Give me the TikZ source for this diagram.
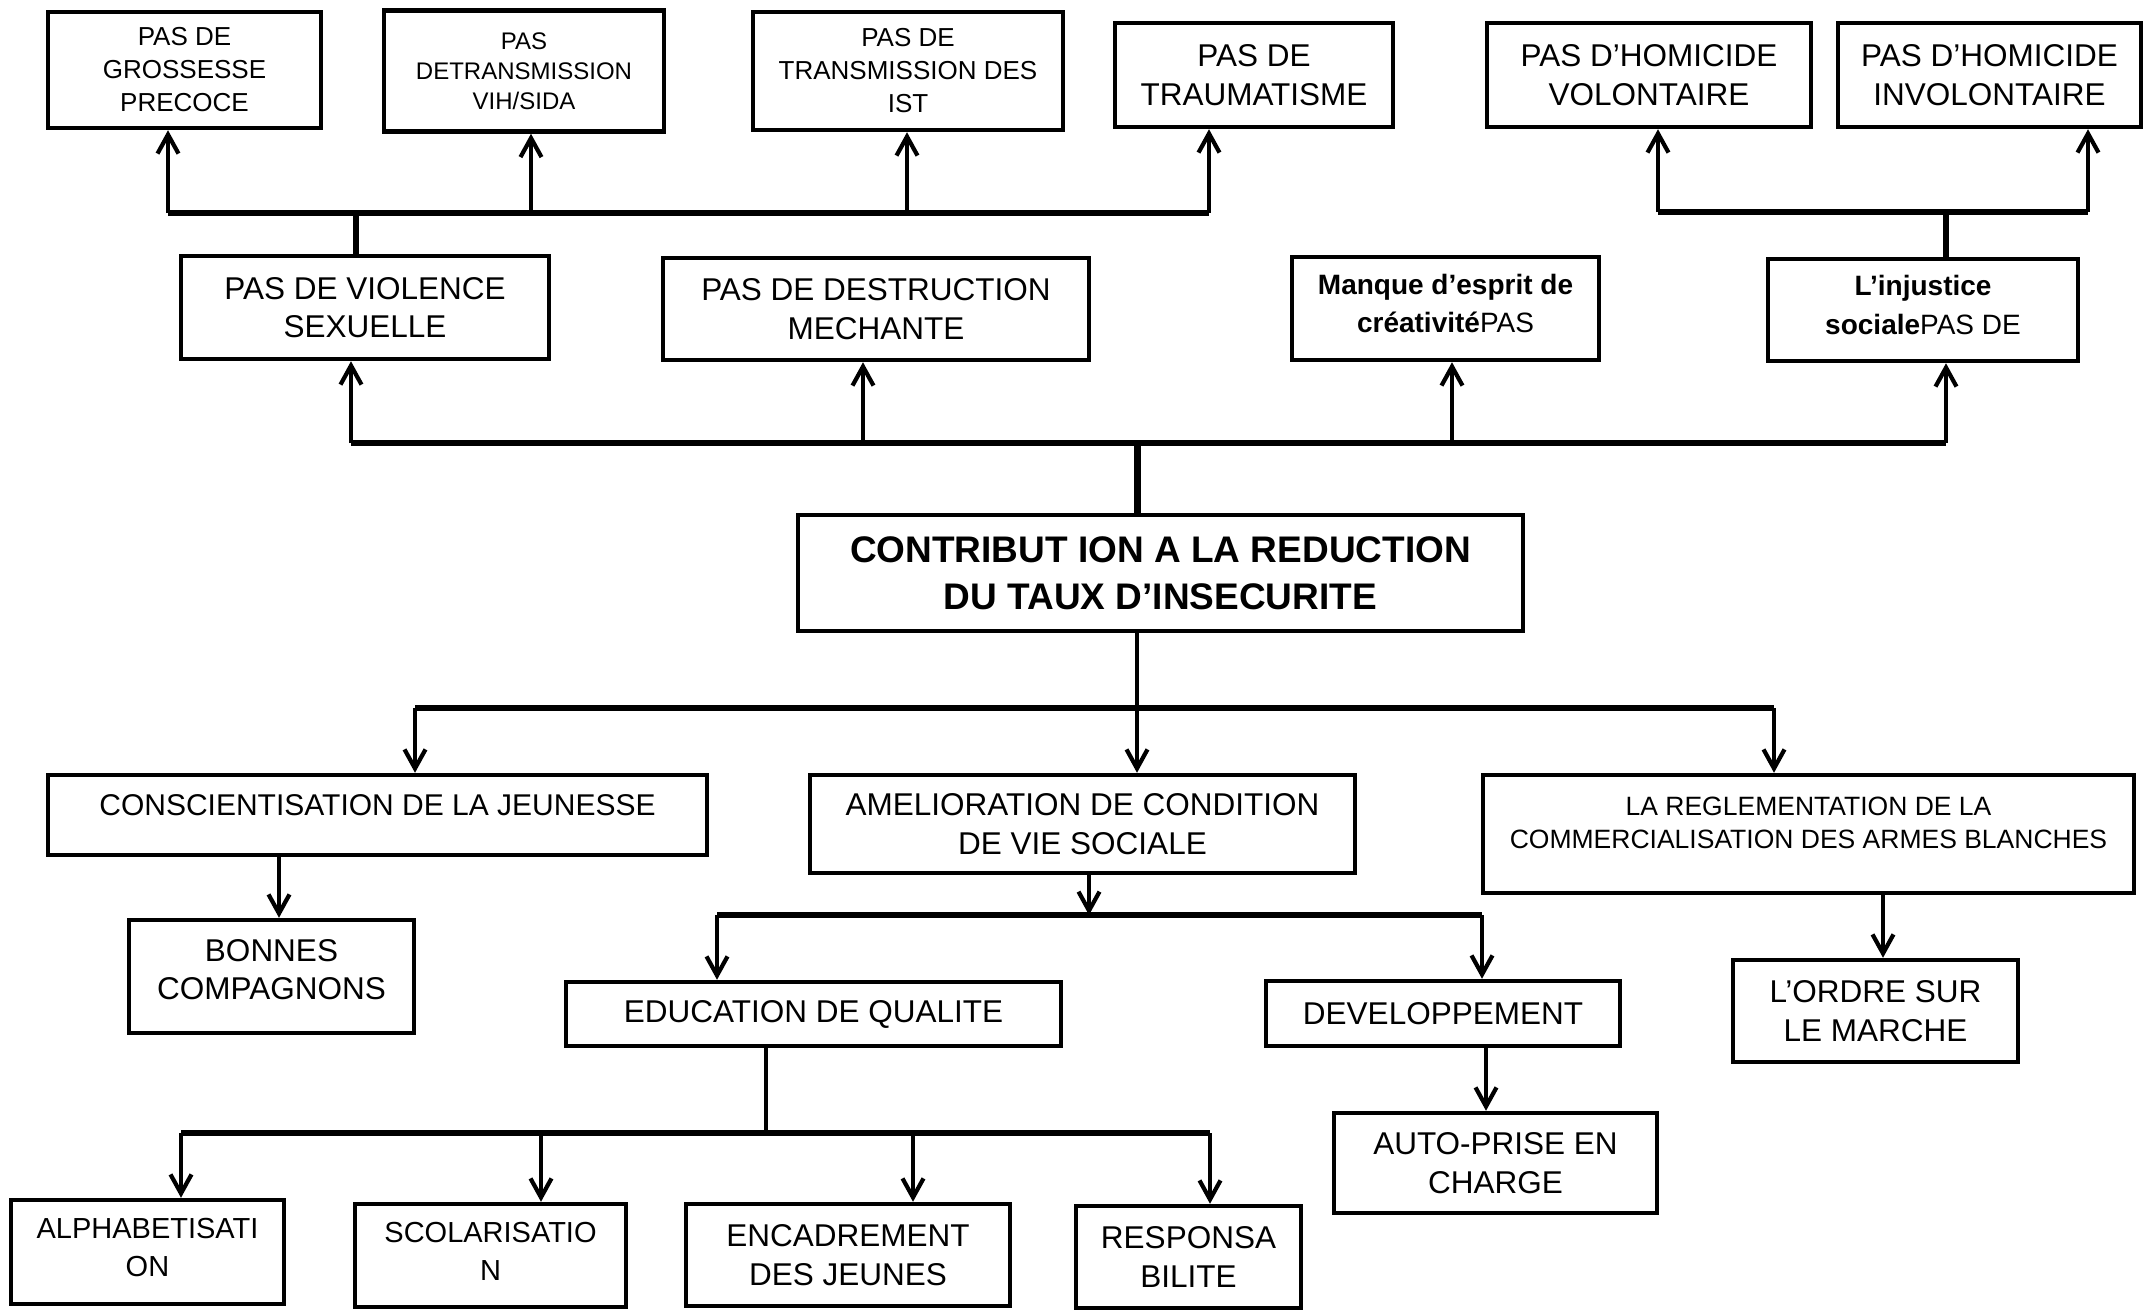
\documentclass[tikz,border=0pt]{standalone}
\usepackage{fontspec}
\setmainfont{Liberation Sans}
\usetikzlibrary{arrows.meta}
\newcommand{\monte}[2]{\raisebox{#1}[\height][\depth]{#2}}

\begin{document}
\begin{tikzpicture}[x=1pt,y=-1pt,
    boite/.style={draw,line width=4.5pt,inner sep=0pt,align=center,font=\fontsize{31.5}{38.5}\selectfont},
    petit/.style={font=\fontsize{26}{33}\selectfont},
    fleche/.style={-{Straight Barb[length=19pt,width=21pt]},line width=4.2pt},
    barre/.style={line width=5.5pt}]
        \useasboundingbox (0,0) rectangle (2145,1311);

        \node[boite,petit,minimum width=273,minimum height=116] at (184.5,70) (gross) {PAS DE\\GROSSESSE\\PRECOCE};
        \node[boite,font=\fontsize{24}{30}\selectfont,minimum width=280,minimum height=121] at (524,71) (vih) {PAS\\DETRANSMISSION\\VIH/SIDA};
        \node[boite,petit,minimum width=310,minimum height=118] at (908,71) (ist) {PAS DE\\TRANSMISSION DES\\IST};
        \node[boite,minimum width=278,minimum height=104] at (1254,75) (traum) {PAS DE\\TRAUMATISME};
        \node[boite,minimum width=324,minimum height=104] at (1649,75) (volont) {PAS D’HOMICIDE\\VOLONTAIRE};
        \node[boite,minimum width=303,minimum height=104] at (1989.5,75) (involont) {PAS D’HOMICIDE\\INVOLONTAIRE};

        \node[boite,minimum width=368,minimum height=103] at (365,307.5) (viol) {PAS DE VIOLENCE\\SEXUELLE};
        \node[boite,minimum width=426,minimum height=102] at (876,309) (destr) {PAS DE DESTRUCTION\\MECHANTE};
        \node[boite,font=\fontsize{28}{38.5}\selectfont,minimum width=307,minimum height=103] at (1445.5,308.5) (manque) {\monte{5pt}{\textbf{Manque d’esprit de}}\\\monte{5pt}{\textbf{créativité}PAS}};
        \node[boite,font=\fontsize{28}{38.5}\selectfont,minimum width=310,minimum height=102] at (1923,310) (injust) {\monte{5pt}{\textbf{L’injustice}}\\\monte{5pt}{\textbf{sociale}PAS DE}};

        \node[boite,font=\bfseries\fontsize{37}{47}\selectfont,minimum width=725,minimum height=116] at (1160.5,573) (central) {CONTRIBUT ION A LA REDUCTION\\DU TAUX D’INSECURITE};

        \node[boite,font=\fontsize{30}{38}\selectfont,minimum width=659,minimum height=80] at (377.5,815) (consc) {\monte{10pt}{CONSCIENTISATION DE LA JEUNESSE}};
        \node[boite,minimum width=545,minimum height=98] at (1082.5,824) (amelio) {AMELIORATION DE CONDITION\\DE VIE SOCIALE};
        \node[boite,font=\fontsize{26.5}{33}\selectfont,minimum width=651,minimum height=118] at (1808.5,834) (regle) {\monte{11pt}{LA REGLEMENTATION DE LA}\\\monte{11pt}{COMMERCIALISATION DES ARMES BLANCHES}};

        \node[boite,minimum width=285,minimum height=113] at (271.5,976.5) (bonnes) {\monte{7pt}{BONNES}\\\monte{7pt}{COMPAGNONS}};
        \node[boite,minimum width=495,minimum height=64] at (813.5,1014) (educ) {EDUCATION DE QUALITE};
        \node[boite,minimum width=354,minimum height=65] at (1443,1013.5) (devel) {DEVELOPPEMENT};
        \node[boite,minimum width=323,minimum height=100] at (1495.5,1163) (autopr) {AUTO-PRISE EN\\CHARGE};
        \node[boite,minimum width=285,minimum height=102] at (1875.5,1011) (ordre) {L’ORDRE SUR\\LE MARCHE};

        \node[boite,font=\fontsize{29}{38}\selectfont,minimum width=273,minimum height=104] at (147.5,1252) (alpha) {\monte{4pt}{ALPHABETISATI}\\\monte{4pt}{ON}};
        \node[boite,font=\fontsize{29}{38}\selectfont,minimum width=271,minimum height=103] at (490.5,1255.5) (scol) {\monte{4pt}{SCOLARISATIO}\\\monte{4pt}{N}};
        \node[boite,minimum width=324,minimum height=102] at (848,1255) (encad) {ENCADREMENT\\DES JEUNES};
        \node[boite,minimum width=225,minimum height=102] at (1188.5,1257) (respons) {RESPONSA\\BILITE};

        \coordinate (hg) at (168,213);
        \coordinate (hv) at (531,213);
        \coordinate (hi) at (907,213);
        \coordinate (ht) at (1209,213);
        \coordinate (sv) at (356,213);
        \draw[barre] (hg) -- (ht);
        \draw[fleche] (hg) -- (hg |- gross.south);
        \draw[fleche] (hv) -- (hv |- vih.south);
        \draw[fleche] (hi) -- (hi |- ist.south);
        \draw[fleche] (ht) -- (ht |- traum.south);
        \draw[barre,line width=6pt] (sv) -- (sv |- viol.north);

        \coordinate (ho) at (1658,212);
        \coordinate (hn) at (2088,212);
        \coordinate (hj) at (1946,212);
        \draw[barre] (ho) -- (hn);
        \draw[fleche] (ho) -- (ho |- volont.south);
        \draw[fleche] (hn) -- (hn |- involont.south);
        \draw[barre,line width=6pt] (hj) -- (hj |- injust.north);

        \coordinate (bv) at (351,443);
        \coordinate (bd) at (863,443);
        \coordinate (bm) at (1452,443);
        \coordinate (bj) at (1946,443);
        \coordinate (bc) at (1137,443);
        \draw[barre] (bv) -- (bj);
        \draw[fleche] (bv) -- (bv |- viol.south);
        \draw[fleche] (bd) -- (bd |- destr.south);
        \draw[fleche] (bm) -- (bm |- manque.south);
        \draw[fleche] (bj) -- (bj |- injust.south);
        \draw[barre,line width=7pt] (bc) -- (bc |- central.north);

        \coordinate (dc) at (415,708);
        \coordinate (dm) at (1137,708);
        \coordinate (dr) at (1774,708);
        \draw[barre] (dc) -- (dr);
        \draw[fleche] (dc) -- (dc |- consc.north);
        \draw[fleche] (dr) -- (dr |- regle.north);
        \draw[fleche] (central.south -| dm) -- (dm |- amelio.north);

        \coordinate (cb) at (279,890);
        \draw[fleche] (consc.south -| cb) -- (cb |- bonnes.north);

        \coordinate (ea) at (1089,915);
        \coordinate (ee) at (717,915);
        \coordinate (ed) at (1482,915);
        \draw[fleche] (amelio.south -| ea) -- (ea);
        \draw[barre] (ee) -- (ed);
        \draw[fleche] (ee) -- (ee |- educ.north);
        \draw[fleche] (ed) -- (ed |- devel.north);

        \coordinate (da) at (1486,1080);
        \draw[fleche] (devel.south -| da) -- (da |- autopr.north);
        \coordinate (ro) at (1883,930);
        \draw[fleche] (regle.south -| ro) -- (ro |- ordre.north);

        \coordinate (qe) at (766,1133);
        \coordinate (qa) at (181,1133);
        \coordinate (qs) at (541,1133);
        \coordinate (qc) at (913,1133);
        \coordinate (qr) at (1210,1133);
        \draw[line width=4pt] (educ.south -| qe) -- (qe);
        \draw[barre] (qa) -- (qr);
        \draw[fleche] (qa) -- (qa |- alpha.north);
        \draw[fleche] (qs) -- (qs |- scol.north);
        \draw[fleche] (qc) -- (qc |- encad.north);
        \draw[fleche] (qr) -- (qr |- respons.north);
    \end{tikzpicture}
\end{document}
